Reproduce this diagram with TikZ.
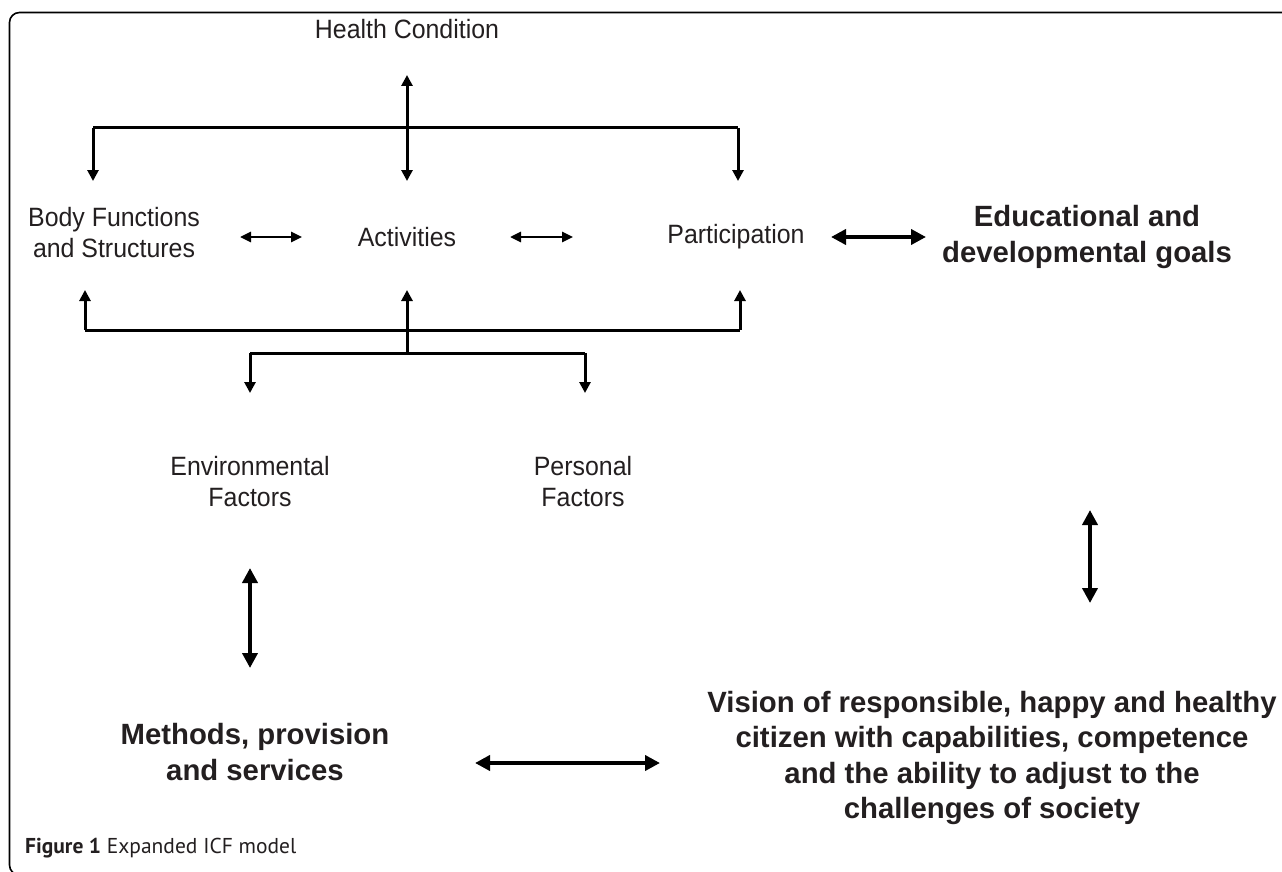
\documentclass[tikz,border=0pt]{standalone}
\usepackage{fontspec}
\setmainfont{Liberation Sans}
\newfontfamily\condfont[FakeStretch=0.94]{Liberation Sans}
\newfontfamily\capfont{PT Sans}
\usetikzlibrary{arrows.meta}
\definecolor{ink}{HTML}{231F20}
\begin{document}
\begin{tikzpicture}[x=1pt,y=-1pt,
  lbl/.style={font=\condfont\fontsize{26.5}{31}\selectfont, align=center, inner sep=0pt, text=ink},
  blbl/.style={font=\fontsize{29.3}{35.5}\selectfont\bfseries, align=center, inner sep=0pt, text=ink},
  conn/.style={line width=3pt, line cap=butt},
  onehead/.style={conn, -{Triangle[width=11pt,length=11pt]}},
  twohead/.style={conn, {Triangle[width=11pt,length=11pt]}-{Triangle[width=11pt,length=11pt]}},
  smallboth/.style={line width=2.6pt, {Triangle[width=10pt,length=11pt]}-{Triangle[width=10pt,length=11pt]}},
  bigboth/.style={line width=4.2pt, {Triangle[width=15pt,length=15pt]}-{Triangle[width=15pt,length=15pt]}},
]
\useasboundingbox (0,0) rectangle (1282,872);
\fill[white] (0,0) rectangle (1282,872);
% frame
\draw[line width=1.6pt, rounded corners=10pt] (1300,12.5) -- (9.5,12.5) -- (9.5,875) -- (120,875);

% nodes
\node[lbl] (hc) at (407,29) {Health Condition};
\node[lbl] (bf) at (114,233) {Body Functions\\and Structures};
\node[lbl] (act) at (407,237) {Activities};
\node[lbl] (par) at (736,237) {Participation};
\node[blbl] (edu) at (1087,237) {Educational and\\developmental goals};
\node[lbl] (env) at (250,482) {Environmental\\Factors};
\node[lbl] (pers) at (583,482) {Personal\\Factors};
\node[blbl] (meth) at (255,752) {Methods, provision\\and services};
\node[blbl] (vis) at (992,758) {Vision of responsible, happy and healthy\\citizen with capabilities, competence\\and the ability to adjust to the\\challenges of society};
\node[anchor=west, inner sep=0pt, font=\capfont\fontsize{21.5}{24}\selectfont, text=ink] (cap) at (25,848) {\textbf{Figure 1} Expanded ICF model};

% coordinates
\coordinate (hcA) at (407,75);
\coordinate (actT) at (407,181);
\coordinate (tl) at (93,128);
\coordinate (tr) at (738,128);
\coordinate (bfT) at (93,181);
\coordinate (parT) at (738,181);
\coordinate (bl) at (85,330);
\coordinate (br) at (740,330);
\coordinate (bfB) at (85,290);
\coordinate (actB) at (407,290);
\coordinate (parB) at (740,290);
\coordinate (bm) at (407,353);
\coordinate (el) at (250,353);
\coordinate (er) at (585,353);
\coordinate (envT) at (250,393);
\coordinate (persT) at (585,393);

% top bracket
\draw[conn] (tl) -- (tr);
\draw[onehead] (tl) -- (bfT);
\draw[onehead] (tr) -- (parT);
\draw[twohead] (hcA) -- (actT);

% horizontal links
\draw[smallboth] (240,237) coordinate (a1) -- (302,237) coordinate (a2);
\draw[smallboth] (510,237) coordinate (a3) -- (573,237) coordinate (a4);
\draw[bigboth] (831,237) coordinate (a5) -- (926,237) coordinate (a6);

% lower bracket
\draw[conn] (bl) -- (br);
\draw[onehead] (bl) -- (bfB);
\draw[onehead] (br) -- (parB);
\draw[onehead] (bm) -- (actB);
\draw[conn] (el) -- (er);
\draw[onehead] (el) -- (envT);
\draw[onehead] (er) -- (persT);

% thick links
\draw[bigboth] (250,568) coordinate (m1) -- (250,668) coordinate (m2);
\draw[bigboth] (1090,510) coordinate (v1) -- (1090,603) coordinate (v2);
\draw[bigboth] (475,763) coordinate (h1) -- (660,763) coordinate (h2);
\end{tikzpicture}
\end{document}
